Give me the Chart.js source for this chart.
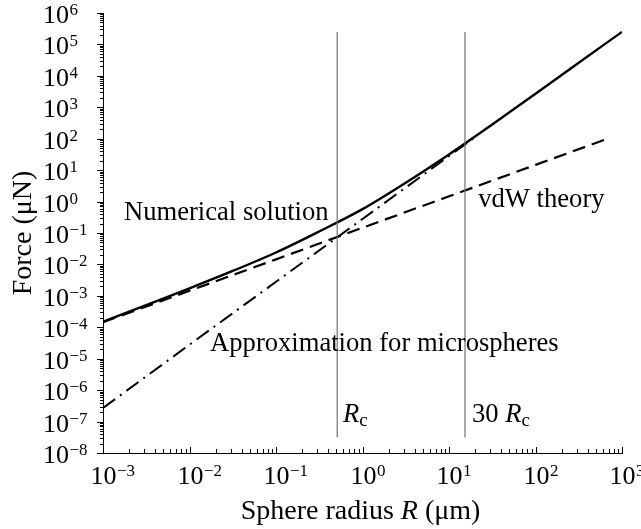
<!DOCTYPE html>
<html>
<head>
<meta charset="utf-8">
<script src="https://cdn.jsdelivr.net/npm/chart.js@4.4.1/dist/chart.umd.min.js"></script>
<style>
	html, body { margin: 0; padding: 0; background: #ffffff; }
	canvas { display: block; }
</style>
</head>
<body>
<canvas id="force" width="641" height="529"></canvas>
<script>
// Sphere radius R (um) against pull-off force (uN).
var radiusNumerical = [ 0.001, 0.00316, 0.01, 0.0316, 0.1, 0.316, 1, 3.16, 10, 31.6, 100, 316, 1000 ];
var forceNumerical  = [ 1.51e-4, 5.1e-4, 1.74e-3, 6.2e-3, 0.024, 0.112, 0.575, 3.98, 31.6, 282, 2690, 26300, 251000 ];

var radiusVdw = [ 0.001, 0.01, 0.1, 1, 10, 100, 700 ];
var forceVdw  = [ 1.45e-4, 1.45e-3, 1.45e-2, 0.147, 1.47, 14.7, 103 ];

var radiusApprox = [ 0.001, 0.01, 0.1, 1, 10, 20 ];
var forceApprox  = [ 2.7e-7, 2.8e-5, 2.8e-3, 0.28, 28, 112 ];

// Rc and 30 Rc marker lines.
var markerRadius = [ 0.51, 15.3 ];
var markerForce  = [ 3.1e-8, 2.5e5 ];

// Decade exponents used for tick labels.
var xDecades = [ -3, -2, -1, 0, 1, 2, 3 ];
var yDecades = [ -8, -7, -6, -5, -4, -3, -2, -1, 0, 1, 2, 3, 4, 5, 6 ];

var serif = '"Liberation Serif", "Times New Roman", serif';

function toPoints( xs, ys ) {
	return xs.map( function ( x, i ) {
		return { x: x, y: ys[ i ] };
	} );
}

function markerLine( r ) {
	return {
		data: toPoints( [ r, r ], markerForce ),
		borderColor: '#727272',
		borderWidth: 1.2,
		pointRadius: 0,
		showLine: true,
	};
}

// Draw "10" with a raised exponent.
function drawPower( ctx, x, y, exp, centered ) {
	var sup = String( exp ).replace( '-', '\u2212' );
	ctx.font = '26px ' + serif;
	var wBase = ctx.measureText( '10' ).width;
	var left = centered ? x - wBase / 2 : x;
	ctx.fillText( '10', left, y );
	ctx.font = '17px ' + serif;
	ctx.fillText( sup, left + wBase + 0.5, y - 8 );
}

// Draw a run of [text, font, dy] pieces starting at x.
function drawRuns( ctx, runs, x, y ) {
	runs.forEach( function ( run ) {
		ctx.font = run[ 1 ];
		ctx.fillText( run[ 0 ], x, y + ( run[ 2 ] || 0 ) );
		x += ctx.measureText( run[ 0 ] ).width;
	} );
}

function runsWidth( ctx, runs ) {
	var w = 0;
	runs.forEach( function ( run ) {
		ctx.font = run[ 1 ];
		w += ctx.measureText( run[ 0 ] ).width;
	} );
	return w;
}

var plain  = '26.6px ' + serif;
var italic = 'italic 26.6px ' + serif;
var sub    = '19px ' + serif;
var title  = '28px ' + serif;
var titleI = 'italic 28px ' + serif;

var axesPlugin = {
	id: 'axesAndText',
	afterDraw: function ( chart ) {
		var ctx  = chart.ctx;
		var area = chart.chartArea;
		var xs   = chart.scales.x;
		var ys   = chart.scales.y;

		ctx.save();
		ctx.strokeStyle = '#000000';
		ctx.fillStyle = '#000000';
		ctx.lineWidth = 1;
		ctx.textAlign = 'left';
		ctx.textBaseline = 'alphabetic';

		// axis lines
		ctx.beginPath();
		ctx.moveTo( area.left + 0.5, area.top );
		ctx.lineTo( area.left + 0.5, area.bottom + 0.5 );
		ctx.lineTo( area.right, area.bottom + 0.5 );
		ctx.stroke();

		// y ticks (outward) and labels
		yDecades.forEach( function ( e ) {
			var py = Math.round( ys.getPixelForValue( Math.pow( 10, e ) ) ) + 0.5;
			ctx.beginPath();
			ctx.moveTo( area.left - 6, py );
			ctx.lineTo( area.left + 1, py );
			ctx.stroke();
			if ( e < yDecades[ yDecades.length - 1 ] ) {
				for ( var m = 2; m < 10; m++ ) {
					var my = Math.round( ys.getPixelForValue( m * Math.pow( 10, e ) ) ) + 0.5;
					ctx.beginPath();
					ctx.moveTo( area.left - 3, my );
					ctx.lineTo( area.left, my );
					ctx.stroke();
				}
			}
			drawPower( ctx, 43, py + 9, e, false );
		} );

		// x ticks (inward) and labels
		xDecades.forEach( function ( e ) {
			var px = Math.round( xs.getPixelForValue( Math.pow( 10, e ) ) ) + 0.5;
			ctx.beginPath();
			ctx.moveTo( px, area.bottom + 1 );
			ctx.lineTo( px, area.bottom - 6 );
			ctx.stroke();
			if ( e < xDecades[ xDecades.length - 1 ] ) {
				for ( var m = 2; m < 10; m++ ) {
					var mx = Math.round( xs.getPixelForValue( m * Math.pow( 10, e ) ) ) + 0.5;
					ctx.beginPath();
					ctx.moveTo( mx, area.bottom );
					ctx.lineTo( mx, area.bottom - 4 );
					ctx.stroke();
				}
			}
			drawPower( ctx, px, area.bottom + 31, e, true );
		} );

		// axis titles
		var xTitle = [ [ 'Sphere radius ', title ], [ 'R', titleI ], [ ' (\u03bcm)', title ] ];
		drawRuns( ctx, xTitle, ( area.left + area.right ) / 2 - runsWidth( ctx, xTitle ) / 2 - 2, 519 );

		ctx.save();
		ctx.translate( 31, ( area.top + area.bottom ) / 2 );
		ctx.rotate( -Math.PI / 2 );
		ctx.font = title;
		ctx.textAlign = 'center';
		ctx.fillText( 'Force (\u03bcN)', 0, 0 );
		ctx.restore();

		// curve labels, anchored in data space
		var labels = [
			{ r: 1.75e-3, f: 0.26, runs: [ [ 'Numerical solution', plain ] ] },
			{ r: 21.8, f: 0.67, runs: [ [ 'vdW theory', plain ] ] },
			{ r: 0.0173, f: 1.76e-5, runs: [ [ 'Approximation for microspheres', plain ] ] },
			{ r: 0.597, f: 1e-7, runs: [ [ 'R', italic ], [ 'c', sub, 4 ] ] },
			{ r: 18.4, f: 1e-7, runs: [ [ '30 ', plain ], [ 'R', italic ], [ 'c', sub, 4 ] ] },
		];
		labels.forEach( function ( l ) {
			drawRuns( ctx, l.runs, xs.getPixelForValue( l.r ), ys.getPixelForValue( l.f ) );
		} );

		ctx.restore();
	},
};

new Chart( document.getElementById( 'force' ), {
	type: 'scatter',
	data: {
		datasets: [
			markerLine( markerRadius[ 0 ] ),
			markerLine( markerRadius[ 1 ] ),
			{
				label: 'Approximation for microspheres',
				data: toPoints( radiusApprox, forceApprox ),
				borderColor: '#000000',
				borderWidth: 2,
				borderDash: [ 15, 6, 2, 6 ],
				pointRadius: 0,
				showLine: true,
			},
			{
				label: 'vdW theory',
				data: toPoints( radiusVdw, forceVdw ),
				borderColor: '#000000',
				borderWidth: 2.2,
				borderDash: [ 13, 7 ],
				pointRadius: 0,
				showLine: true,
			},
			{
				label: 'Numerical solution',
				data: toPoints( radiusNumerical, forceNumerical ),
				borderColor: '#000000',
				borderWidth: 2.4,
				cubicInterpolationMode: 'monotone',
				pointRadius: 0,
				showLine: true,
			},
		],
	},
	plugins: [ axesPlugin ],
	options: {
		responsive: false,
		animation: false,
		layout: {
			padding: { top: 13, right: 19, left: 0, bottom: 0 },
		},
		plugins: {
			legend: { display: false },
			tooltip: { enabled: false },
		},
		scales: {
			x: {
				type: 'logarithmic',
				min: 1e-3,
				max: 1e3,
				ticks: { display: false },
				grid: { display: false, drawTicks: false },
				border: { display: false },
				afterFit: function ( scale ) {
					scale.height = 76;
				},
			},
			y: {
				type: 'logarithmic',
				min: 1e-8,
				max: 1e6,
				ticks: { display: false },
				grid: { display: false, drawTicks: false },
				border: { display: false },
				afterFit: function ( scale ) {
					scale.width = 103;
				},
			},
		},
	},
} );
</script>
</body>
</html>
